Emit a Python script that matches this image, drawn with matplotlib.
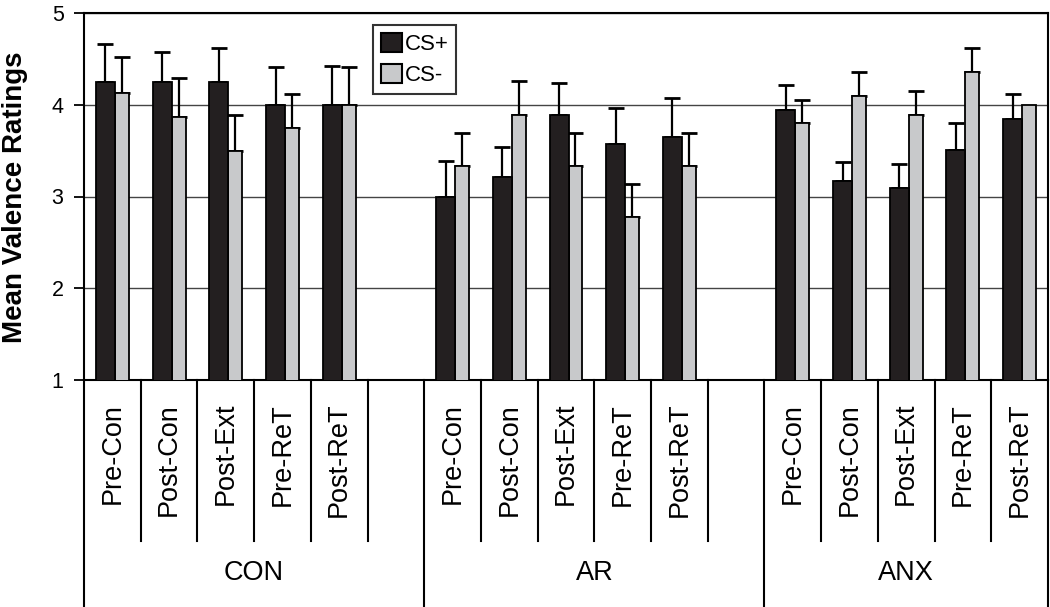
import matplotlib
matplotlib.use("Agg")
import matplotlib.pyplot as plt
import matplotlib.patches as mpatches
import matplotlib.transforms as mtransforms
import numpy as np

plt.rcParams['font.family'] = ['Liberation Sans', 'DejaVu Sans']

groups = ["CON", "AR", "ANX"]
phases = ["Pre-Con", "Post-Con", "Post-Ext", "Pre-ReT", "Post-ReT"]

cs_plus = {
    "CON": [4.25, 4.25, 4.25, 4.00, 4.00],
    "AR":  [3.00, 3.21, 3.89, 3.57, 3.65],
    "ANX": [3.94, 3.17, 3.09, 3.51, 3.84],
}
cs_plus_err = {
    "CON": [0.41, 0.32, 0.37, 0.41, 0.42],
    "AR":  [0.39, 0.33, 0.35, 0.39, 0.42],
    "ANX": [0.28, 0.21, 0.26, 0.29, 0.28],
}
cs_minus = {
    "CON": [4.13, 3.87, 3.50, 3.75, 4.00],
    "AR":  [3.33, 3.89, 3.33, 2.78, 3.33],
    "ANX": [3.80, 4.10, 3.89, 4.36, 4.00],
}
cs_minus_err = {
    "CON": [0.39, 0.42, 0.39, 0.37, 0.41],
    "AR":  [0.36, 0.37, 0.36, 0.36, 0.36],
    "ANX": [0.25, 0.26, 0.26, 0.26, 0.00],
}

BLACK = "#231f20"
GRAY = "#c8c9cb"

fig = plt.figure(figsize=(10.5, 6.07), dpi=100)
ax = fig.add_axes([84/1050, 1-380/607, (1048-84)/1050, (380-13)/607])

slot_per_group = 6
positions = []
for gi, g in enumerate(groups):
    base = gi * slot_per_group
    x = np.arange(len(phases)) + base
    positions.append(x)
    ax.bar(x + 0.045, cs_minus[g], width=0.245, align='edge', color=GRAY,
           edgecolor='black', linewidth=1.3, zorder=3)
    ax.bar(x - 0.29, cs_plus[g], width=0.335, align='edge', color=BLACK,
           edgecolor='black', linewidth=1.3, zorder=3)
    ym = np.array(cs_minus_err[g])
    yp = np.array(cs_plus_err[g])
    ax.errorbar(x - 0.1225, cs_plus[g], yerr=[np.zeros_like(yp), yp], fmt='none',
                ecolor='black', elinewidth=1.6, capsize=5.5, capthick=2.0, zorder=2)
    mask = ym > 0
    ax.errorbar((x + 0.1675)[mask], np.array(cs_minus[g])[mask],
                yerr=[np.zeros(mask.sum()), ym[mask]], fmt='none',
                ecolor='black', elinewidth=1.6, capsize=5.5, capthick=2.0, zorder=2)

ax.set_xlim(-0.5, 16.5)
ax.set_ylim(1, 5)
ax.set_yticks([1, 2, 3, 4, 5])
ax.set_xticks([])
ax.yaxis.grid(True, color='#444444', linewidth=1.0, zorder=0)
ax.set_axisbelow(True)
for s in ax.spines.values():
    s.set_linewidth(1.5)
    s.set_color('black')
ax.tick_params(axis='y', length=7.2, width=1.3, pad=7.5, labelsize=15.5)

trans = mtransforms.blended_transform_factory(ax.transData, ax.transAxes)
long_lines = [-0.5, 5.5, 11.5, 16.5]
for xl in long_lines:
    ax.plot([xl, xl], [0, -0.62], transform=trans, color='black', lw=1.5, clip_on=False)
for gi in range(3):
    base = gi * slot_per_group
    for k in range(5):
        xt = base + k + 0.5
        if xt in long_lines:
            continue
        ax.plot([xt, xt], [0, -0.4387], transform=trans, color='black', lw=1.5, clip_on=False)

for gi, g in enumerate(groups):
    for k, p in enumerate(phases):
        ax.text(positions[gi][k], -0.062, p, transform=trans, rotation=90,
                ha='center', va='top', fontsize=19.5)
centers = [2.5, 8.5, 14]
for gi, g in enumerate(groups):
    ax.text(centers[gi], -0.526, g, transform=trans, ha='center', va='center', fontsize=19.5)

fig.text(15/1050, 1-197/607, "Mean Valence Ratings", rotation=90, ha='center', va='center',
         fontsize=20, fontweight='bold')

handles = [mpatches.Patch(facecolor=BLACK, edgecolor='black', linewidth=1.5, label='CS+'),
           mpatches.Patch(facecolor=GRAY, edgecolor='black', linewidth=1.5, label='CS-')]
leg = ax.legend(handles=handles, loc='upper left', bbox_to_anchor=((373-84)/964, (380-25)/367),
                fontsize=16, frameon=True, fancybox=False, handlelength=0.95, handleheight=0.95,
                handletextpad=0.13, labelspacing=0.4, borderpad=0.35, borderaxespad=0)
leg.get_frame().set_edgecolor('black')
leg.get_frame().set_linewidth(1.5)

fig.savefig("out.png", dpi=100)
